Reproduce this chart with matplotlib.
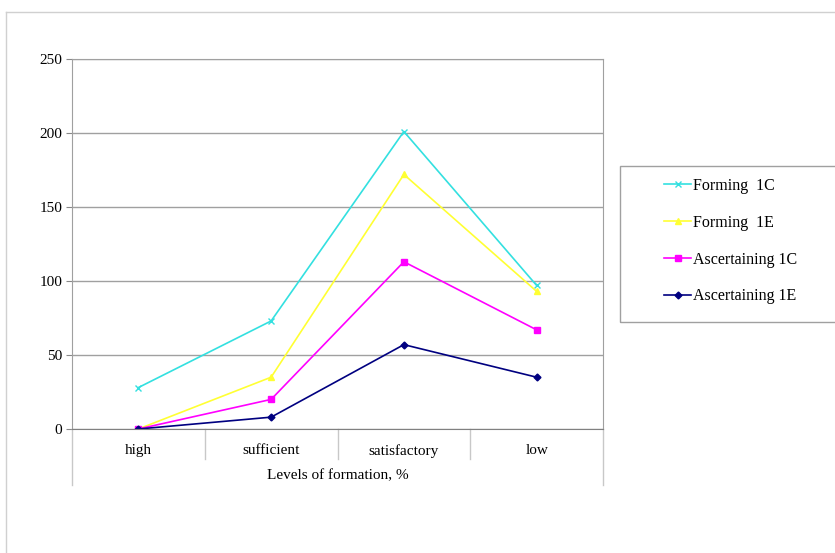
import numpy as np
import matplotlib.pyplot as plt
from matplotlib.lines import Line2D
from matplotlib.patches import Rectangle

# Данные
levels = ['high', 'sufficient', 'satisfactory', 'low']
forming_1c = [28, 73, 201, 97]
forming_1e = [0, 35, 172, 93]
ascert_1c = [0, 20, 113, 67]
ascert_1e = [0, 8, 57, 35]

plt.rcParams['font.family'] = ['Liberation Serif', 'DejaVu Serif']

W, H = 835, 553
fig = plt.figure(figsize=(W / 100, H / 100), dpi=100)
ax = fig.add_axes([72 / W, (H - 429) / H, (603 - 72) / W, (429 - 59) / H])

x = np.arange(len(levels))
ax.plot(x, forming_1c, color='#33e0e0', marker='x', ms=5, lw=1.2, label='Forming  1C')
ax.plot(x, forming_1e, color='#ffff33', marker='^', ms=5, lw=1.2, label='Forming  1E')
ax.plot(x, ascert_1c, color='#ff00ff', marker='s', ms=5, lw=1.2, label='Ascertaining 1C')
ax.plot(x, ascert_1e, color='#000080', marker='D', ms=3.5, lw=1.2, label='Ascertaining 1E')

ax.set_xlim(-0.5, len(levels) - 0.5)
ax.set_ylim(0, 250)
ax.set_yticks(range(0, 251, 50))
ax.set_xticks(x)
ax.set_xticklabels(levels, fontsize=11)
ax.tick_params(axis='x', length=0, pad=11)
ax.tick_params(axis='y', labelsize=11, length=4, color='#888888', pad=3)
ax.grid(axis='y', color='#a0a0a0', lw=1)
for s in ax.spines.values():
    s.set_color('#a0a0a0')
ax.spines['bottom'].set_color('#808080')

# Разделители категорий под осью
trans = ax.get_xaxis_transform()
for i in range(len(levels) + 1):
    pos = i - 0.5
    low = -0.15 if i in (0, len(levels)) else -0.08
    ax.add_line(Line2D([pos, pos], [0, low], transform=trans, color='#c8c8c8', lw=1, clip_on=False))

ax.text(0.5, -0.127, 'Levels of formation, %', transform=ax.transAxes,
        ha='center', va='center', fontsize=11)

# Рамка рисунка
fig.add_artist(Line2D([6 / W, 1], [1 - 12 / H, 1 - 12 / H], color='#d0d0d0', lw=1))
fig.add_artist(Line2D([6 / W, 6 / W], [1 - 12 / H, 0], color='#d0d0d0', lw=1))

# Легенда с рамкой до правого края
fig.add_artist(Rectangle((620 / W, 1 - 322 / H), 220 / W, 156 / H, transform=fig.transFigure,
                         fill=False, edgecolor='#a0a0a0', lw=1))
fig.legend(loc='upper left', bbox_to_anchor=(664 / W, 1 - 178 / H), fontsize=11.5,
           frameon=False, labelspacing=1.3, handlelength=1.7, handletextpad=0.1,
           borderpad=0, borderaxespad=0)

fig.savefig('out.png', dpi=100)
